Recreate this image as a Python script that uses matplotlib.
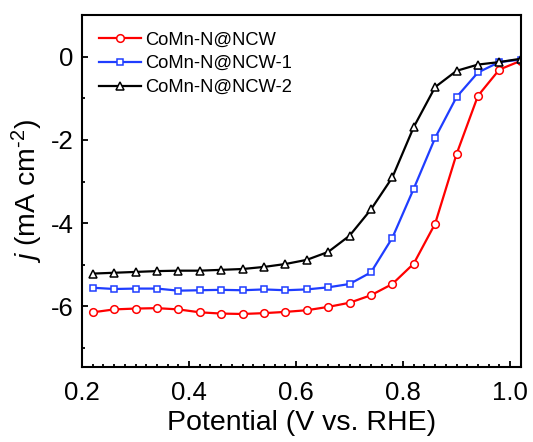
import matplotlib
matplotlib.use("Agg")
import matplotlib.pyplot as plt
from matplotlib.ticker import MultipleLocator

plt.rcParams['font.family'] = ['Liberation Sans', 'DejaVu Sans']
plt.rcParams['axes.unicode_minus'] = False
plt.rcParams['mathtext.fontset'] = 'custom'
plt.rcParams['mathtext.rm'] = 'Liberation Sans'
plt.rcParams['mathtext.it'] = 'Liberation Sans:italic'

# Potencjał (V vs. RHE) – punkty z markerami
potential = [0.22, 0.26, 0.30, 0.34, 0.38, 0.42, 0.46, 0.50, 0.54, 0.58, 0.62,
             0.66, 0.70, 0.74, 0.78, 0.82, 0.86, 0.90, 0.94, 0.98, 1.02]

j_ncw = [-6.14, -6.07, -6.05, -6.04, -6.07, -6.14, -6.17, -6.18, -6.16, -6.13, -6.09,
         -6.01, -5.91, -5.73, -5.46, -4.97, -4.01, -2.34, -0.94, -0.31, -0.10]
j_ncw1 = [-5.55, -5.58, -5.57, -5.57, -5.62, -5.61, -5.60, -5.61, -5.59, -5.61, -5.59,
          -5.54, -5.46, -5.18, -4.35, -3.17, -1.95, -0.97, -0.38, -0.13, -0.07]
j_ncw2 = [-5.21, -5.19, -5.17, -5.15, -5.14, -5.14, -5.12, -5.10, -5.05, -4.98, -4.88,
          -4.69, -4.30, -3.67, -2.90, -1.69, -0.73, -0.34, -0.19, -0.13, -0.05]

labels = ['CoMn-N@NCW', 'CoMn-N@NCW-1', 'CoMn-N@NCW-2']
x_ticks = [0.2, 0.4, 0.6, 0.8, 1.0]
y_ticks = [0, -2, -4, -6]

fig = plt.figure(figsize=(5.33, 4.42), dpi=100)
ax = fig.add_axes([0.154, 0.170, 0.823, 0.796])

styles = [('#ff0000', 'o'), ('#1f3dff', 's'), ('black', '^')]
for ys, lab, (c, m) in zip([j_ncw, j_ncw1, j_ncw2], labels, styles):
    ax.plot(potential, ys, color=c, marker=m, markersize=5.5 if m != 's' else 5,
            markerfacecolor='white', markeredgecolor=c, markeredgewidth=1.1,
            linewidth=1.6, label=lab)

ax.set_xlim(0.2, 1.02)
ax.set_ylim(-7.45, 1.0)
ax.set_xticks(x_ticks)
ax.set_xticklabels([f'{v:.1f}' for v in x_ticks])
ax.set_yticks(y_ticks)
ax.set_yticklabels([str(v) for v in y_ticks])
ax.xaxis.set_minor_locator(MultipleLocator(0.02))
ax.yaxis.set_minor_locator(MultipleLocator(1))

ax.tick_params(which='both', direction='in', top=False, right=False, width=1.3)
ax.tick_params(which='major', length=4.5, labelsize=18.5)
ax.tick_params(axis='x', which='major', pad=10)
ax.tick_params(axis='y', which='major', pad=6)
ax.tick_params(which='minor', length=2.2)
for sp in ax.spines.values():
    sp.set_linewidth(1.5)

ax.set_xlabel('Potential (V vs. RHE)', fontsize=20.5, labelpad=4)
ax.set_ylabel(r'$j$ (mA cm$^{\text{-}2}$)', fontsize=20.5, labelpad=4)

ax.legend(loc='upper left', frameon=False, fontsize=13.2, handlelength=2.3,
          handletextpad=0.2, labelspacing=0.37, borderaxespad=0.3,
          bbox_to_anchor=(0.01, 0.99))

fig.savefig('out.png', dpi=100)
